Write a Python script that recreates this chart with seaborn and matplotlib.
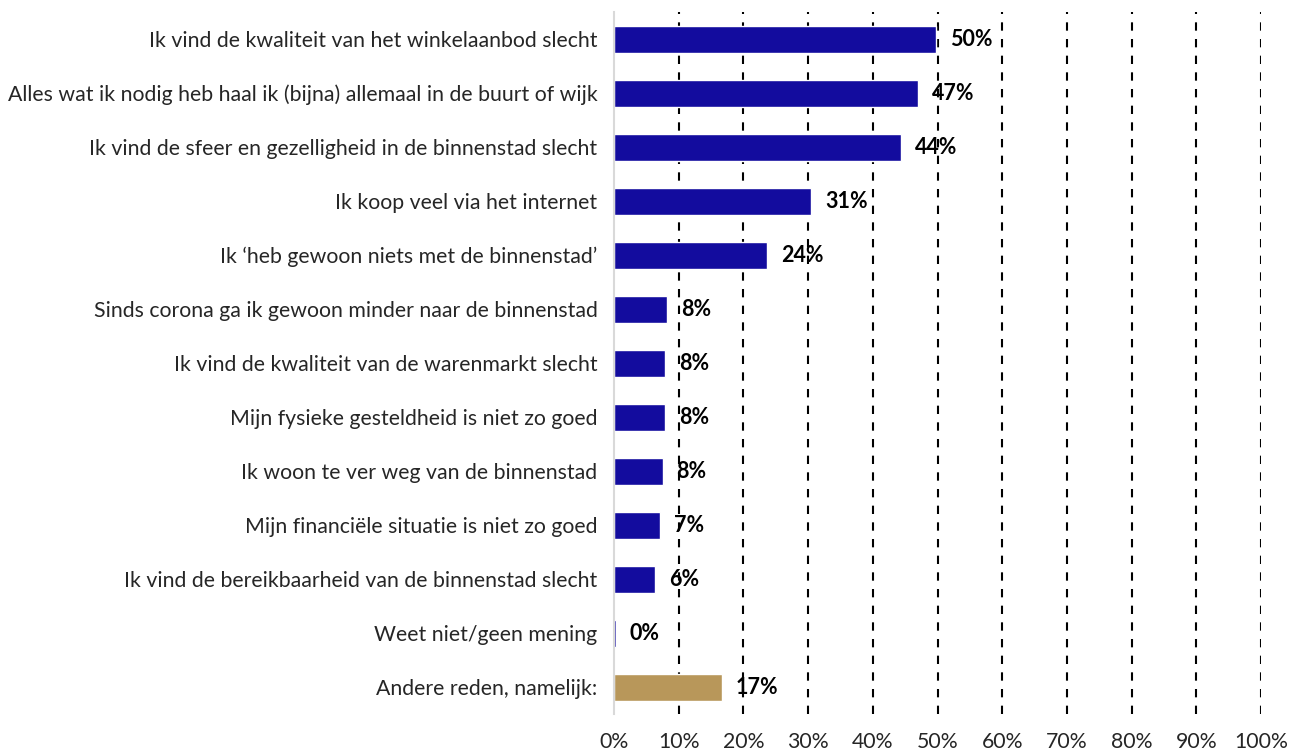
import numpy as np
import pandas as pd
import seaborn as sns
import matplotlib.pyplot as plt

labels = [
    "Ik vind de kwaliteit van het winkelaanbod slecht",
    "Alles wat ik nodig heb haal ik (bijna) allemaal in de buurt of wijk",
    "Ik vind de sfeer en gezelligheid in de binnenstad slecht",
    "Ik koop veel via het internet",
    "Ik \u2018heb gewoon niets met de binnenstad\u2019",
    "Sinds corona ga ik gewoon minder naar de binnenstad",
    "Ik vind de kwaliteit van de warenmarkt slecht",
    "Mijn fysieke gesteldheid is niet zo goed",
    "Ik woon te ver weg van de binnenstad",
    "Mijn financi\u00eble situatie is niet zo goed",
    "Ik vind de bereikbaarheid van de binnenstad slecht",
    "Weet niet/geen mening",
    "Andere reden, namelijk:",
]
values = [49.8, 47.0, 44.4, 30.5, 23.6, 8.2, 7.9, 7.9, 7.5, 7.1, 6.3, 0.3, 16.7]
shown = ["50%", "47%", "44%", "31%", "24%", "8%", "8%", "8%", "8%", "7%", "6%", "0%", "17%"]
group = ["main"] * 12 + ["other"]

df = pd.DataFrame({"reden": labels, "pct": values, "groep": group})

sns.set_style("white")
plt.rcParams['font.family'] = ['Lato', 'DejaVu Sans']

fig = plt.figure(figsize=(13.04, 7.54), dpi=100)
ax = fig.add_axes([0.4709, 0.053, 0.4962, 0.931])

sns.barplot(data=df, x="pct", y="reden", hue="groep", orient="h",
            palette={"main": "#130C9E", "other": "#B8975A"},
            width=0.5, dodge=False, legend=False, ax=ax, saturation=1)

# labels per container (main first, then other)
for cont, g in zip(ax.containers, ["main", "other"]):
    idx = [labels.index(t) for t in df.loc[df.groep == g, "reden"]]
    ax.bar_label(cont, labels=[shown[i] for i in idx], padding=10,
                 fontsize=15.5, fontweight="bold", color="black")

ax.set_xlim(0, 100)
ax.set_ylim(12.5, -0.5)
ax.set_xticks(np.arange(0, 101, 10))
ax.set_xticklabels([f"{t}%" for t in range(0, 101, 10)], fontsize=15.3)
ax.tick_params(axis="x", length=0, pad=13)
ax.tick_params(axis="y", length=0, pad=12, labelsize=15.3)
for x in range(10, 101, 10):
    ax.axvline(x, color="black", linestyle=(0, (4, 4)), linewidth=1.5, zorder=0)
ax.set_xlabel("")
ax.set_ylabel("")
for s in ["top", "right", "bottom"]:
    ax.spines[s].set_visible(False)
ax.spines["left"].set_color("#D9D9D9")
ax.spines["left"].set_linewidth(1.5)

fig.savefig("out.png", dpi=100)
